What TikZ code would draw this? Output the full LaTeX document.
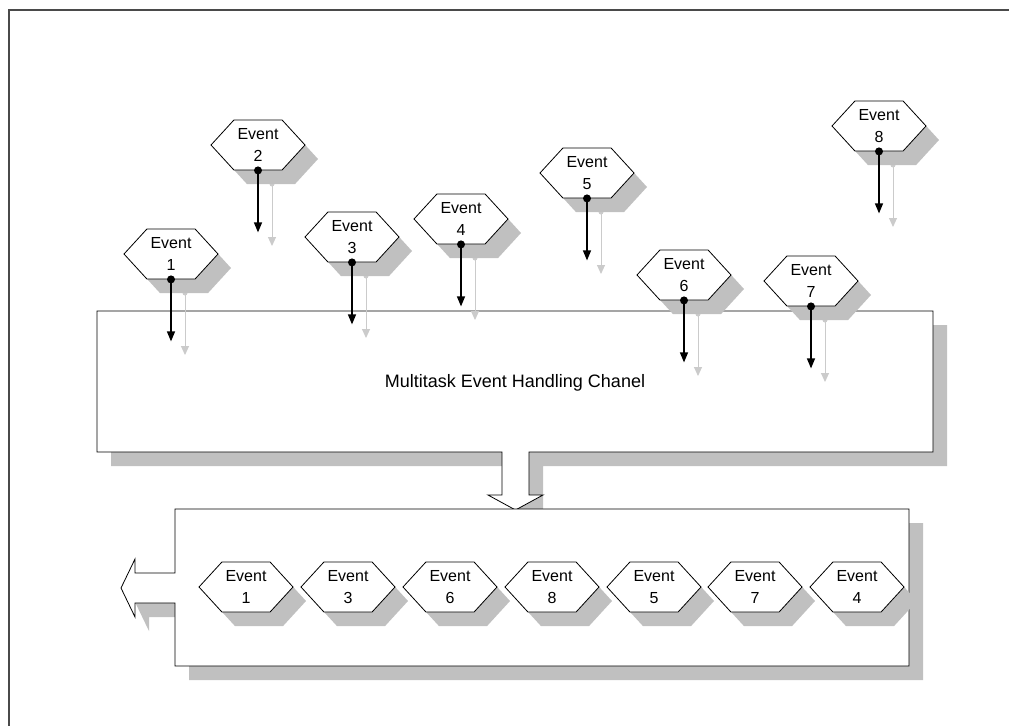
\documentclass[tikz,border=0pt]{standalone}
\usepackage{fontspec}
\setmainfont{Liberation Sans}
\usetikzlibrary{shapes.symbols,shadows,arrows.meta,calc}
\definecolor{shade}{HTML}{C0C0C0}
\definecolor{ghost}{HTML}{CBCBCB}
\definecolor{framegray}{HTML}{4A4A4A}
\begin{document}
\begin{tikzpicture}[x=1pt,y=-1pt,
  evtshadow/.style={general shadow={fill=shade, shadow xshift=13pt, shadow yshift=-14pt}},
  boxshadow/.style={general shadow={fill=shade, shadow xshift=14pt, shadow yshift=-14pt}},
  evt/.style={shape=signal, signal to=west and east, signal pointer angle=95,
    draw=black, line width=0.8pt, fill=white, minimum width=94pt, minimum height=50pt,
    inner sep=0pt, align=center, font=\fontsize{16}{22}\selectfont, evtshadow},
  outline/.style={draw=black, line width=0.8pt, fill=white, boxshadow},
  drop/.style={line width=1.3pt, -{Triangle[width=8pt,length=10pt]}},
  ghostdrop/.style={ghost, line width=1pt, -{Triangle[width=8pt,length=9pt]}},
  label/.style={font=\fontsize{18}{21}\selectfont}]
\useasboundingbox (0,0) rectangle (1009,726);

% page frame
\draw[framegray, line width=2pt] (1009,10) -- (9,10) -- (9,726);

% channel with its outlet arrow
\draw[outline] (97,311) -- (933,311) -- (933,452) -- (529,452) -- (529,495)
  -- (543,495) -- (515.5,510) -- (488,495) -- (502,495) -- (502,452)
  -- (97,452) -- cycle;
\node[label] (chan) at (515,383) {Multitask Event Handling Chanel};

% queue with its outlet arrow
\draw[outline] (175,509) -- (909,509) -- (909,666) -- (175,666) -- (175,603)
  -- (135,603) -- (135,617) -- (121,588) -- (135,559) -- (135,573)
  -- (175,573) -- cycle;

% incoming events and their drops into the channel
\foreach \n/\x/\y in {1/171/254, 2/258/145, 3/352/237, 4/461/219,
                      5/587/173, 6/684/275, 7/811/281, 8/879/126} {
  \coordinate (s\n) at ($(\x,\y)+(14,39)$);
  \coordinate (st\n) at ($(s\n)+(0,62)$);
  \draw[ghostdrop] (s\n) -- (st\n);
  \fill[ghost] (s\n) circle[radius=2.5];
  \node[evt] (e\n) at (\x,\y) {Event\\\n};
  \coordinate (t\n) at ($(e\n.south)+(0,62)$);
  \draw[drop] (e\n.south) -- (t\n);
  \fill (e\n.south) circle[radius=4];
}

% ordered events in the queue
\foreach \x/\n in {246/1, 348/3, 450/6, 552/8, 654/5, 755/7, 857/4} {
  \node[evt] (q\n) at (\x,587) {Event\\\n};
}
\end{tikzpicture}
\end{document}
